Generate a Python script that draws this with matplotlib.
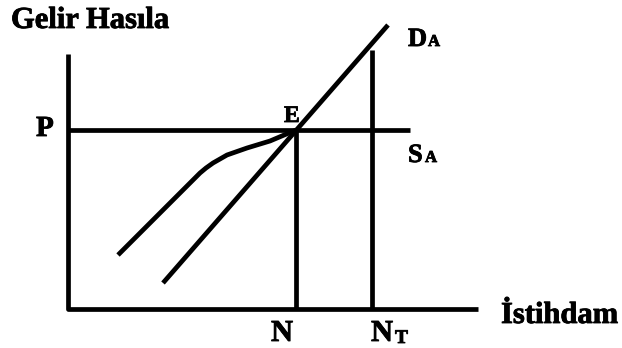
import matplotlib
matplotlib.use('Agg')
import matplotlib.pyplot as plt
import matplotlib.patheffects as pe

plt.rcParams['font.family'] = ['Liberation Serif', 'DejaVu Serif']

# diagram units, origin at the corner of the axes
x_axis_end = 410
y_axis_top = 255
P = 179
p_line_end = 342
N = 228
N_T = 304
nt_top = 259

# aggregate demand (straight line) and aggregate supply (bent curve)
da_x = [95, 320]
da_y = [26, 284]
sa_x = [50, 132, 138, 145, 159, 179, 202, 228]
sa_y = [54, 136, 141, 146, 154, 161, 168, 179]

LW = 3.4
kw = dict(color='black', lw=LW, solid_capstyle='butt', solid_joinstyle='round')

fig = plt.figure(figsize=(6.22, 3.48), dpi=100)
ax = fig.add_axes([0, 0, 1, 1])
ax.set_xlim(-68, 554)
ax.set_ylim(-39, 309)
ax.axis('off')

# axes of the diagram
ax.plot([0, 0, x_axis_end], [y_axis_top, 0, 0], **kw)
# price level line
ax.plot([0, p_line_end], [P, P], **kw)
# verticals at N and N_T
ax.plot([N, N], [0, P], **kw)
ax.plot([N_T, N_T], [0, nt_top], **kw)
# curves
ax.plot(da_x, da_y, **kw)
ax.plot(sa_x, sa_y, **kw)

heavy = [pe.withStroke(linewidth=0.6, foreground='black')]
tkw = dict(fontweight='bold', ha='left', va='baseline', color='black',
           path_effects=heavy)
ax.text(-57, 281, 'Gelir Hasıla', fontsize=22, **tkw)
ax.text(-32, 173, 'P', fontsize=21, **tkw)
ax.text(216, 187, 'E', fontsize=17, **tkw)
ax.text(340, 263, 'D', fontsize=19, **tkw)
ax.text(360, 263, 'A', fontsize=12, **tkw)
ax.text(340, 147, 'S', fontsize=19, **tkw)
ax.text(357, 147, 'A', fontsize=12, **tkw)
ax.text(203, -32, 'N', fontsize=22, **tkw)
ax.text(303, -32, 'N', fontsize=22, **tkw)
ax.text(327, -34, 'T', fontsize=14, **tkw)
ax.text(433, -14, 'İstihdam', fontsize=22, **tkw)

fig.savefig('out.png', dpi=100)
